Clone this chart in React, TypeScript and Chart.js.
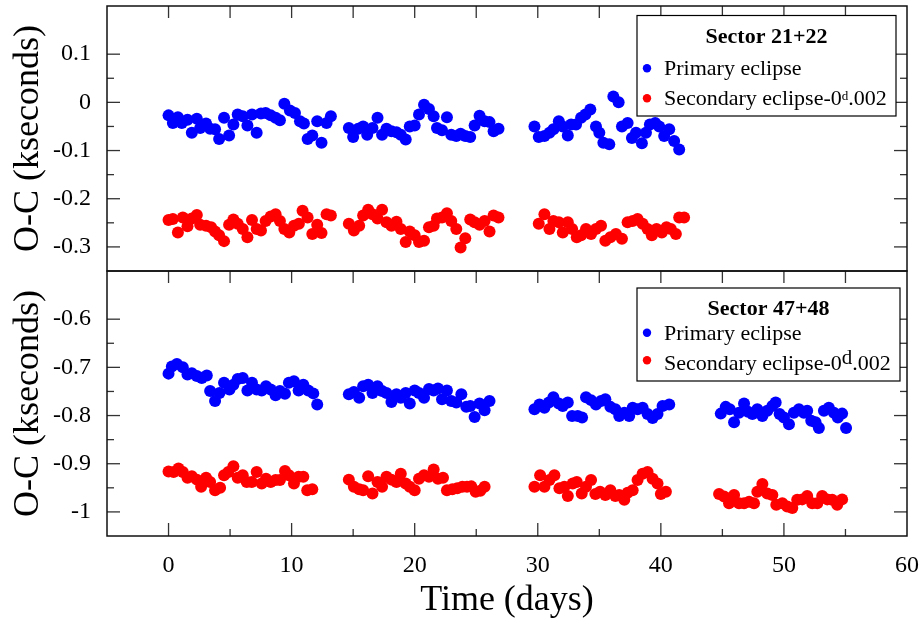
import React, { useEffect, useRef } from 'react';
import { Chart, registerables } from 'chart.js';

Chart.register(...registerables);

const FONT = "'Liberation Serif', 'Times New Roman', serif";
const BLUE = '#0000ff';
const RED = '#ff0000';

// ---------- Sector 21+22 (top panel) ----------
const s21PrimaryDays1 = [0.00, 0.35, 0.76, 1.08, 1.54, 1.89, 2.30, 2.57, 3.05, 3.38, 3.78, 4.11, 4.51, 4.92, 5.27, 5.62, 6.03, 6.41, 6.78, 7.16, 7.51, 7.89, 8.30, 8.70, 9.05, 9.41, 9.86, 10.27, 10.68, 11.00, 11.30, 11.68, 12.08, 12.43, 12.84, 13.19];
const s21PrimaryOC1 = [-0.027, -0.043, -0.031, -0.043, -0.036, -0.063, -0.034, -0.053, -0.044, -0.055, -0.056, -0.076, -0.032, -0.069, -0.046, -0.025, -0.029, -0.048, -0.025, -0.063, -0.023, -0.022, -0.027, -0.032, -0.037, -0.003, -0.017, -0.022, -0.039, -0.044, -0.076, -0.069, -0.039, -0.084, -0.043, -0.029];
const s21PrimaryDays2 = [14.65, 15.0, 15.41, 15.81, 16.14, 16.57, 16.98, 17.35, 17.71, 18.11, 18.52, 18.87, 19.27, 19.60, 20.00, 20.35, 20.76, 21.16, 21.54, 21.81, 22.22, 22.62, 22.97, 23.38, 23.73, 24.11, 24.51, 24.87, 25.27, 25.68, 26.08, 26.41, 26.81];
const s21PrimaryOC2 = [-0.053, -0.072, -0.055, -0.050, -0.067, -0.053, -0.032, -0.067, -0.055, -0.060, -0.062, -0.067, -0.077, -0.050, -0.048, -0.025, -0.005, -0.014, -0.029, -0.053, -0.058, -0.031, -0.067, -0.070, -0.065, -0.070, -0.072, -0.048, -0.028, -0.039, -0.041, -0.060, -0.055];
const s21PrimaryDays3 = [29.73, 30.08, 30.54, 30.95, 31.27, 31.71, 32.03, 32.44, 32.71, 33.11, 33.52, 33.87, 34.27, 34.73, 35.00, 35.33, 35.81, 36.14, 36.57, 36.84, 37.30, 37.65, 37.98, 38.46, 38.79, 39.11, 39.54, 39.87, 40.27, 40.68, 41.08, 41.49];
const s21PrimaryOC3 = [-0.050, -0.072, -0.070, -0.063, -0.056, -0.039, -0.050, -0.069, -0.046, -0.046, -0.032, -0.025, -0.015, -0.050, -0.063, -0.084, -0.087, 0.012, 0.000, -0.050, -0.043, -0.074, -0.063, -0.085, -0.063, -0.046, -0.043, -0.050, -0.070, -0.056, -0.080, -0.098];

const s21SecondaryDays1 = [0.00, 0.35, 0.76, 1.16, 1.54, 1.89, 2.30, 2.57, 3.05, 3.46, 3.78, 4.11, 4.51, 4.92, 5.27, 5.62, 6.03, 6.41, 6.78, 7.16, 7.51, 7.89, 8.30, 8.70, 9.05, 9.41, 9.81, 10.19, 10.59, 10.89, 11.30, 11.68, 12.08, 12.43, 12.84, 13.19];
const s21SecondaryOC1 = [-0.244, -0.242, -0.270, -0.239, -0.257, -0.241, -0.234, -0.254, -0.256, -0.259, -0.268, -0.276, -0.288, -0.254, -0.243, -0.252, -0.263, -0.280, -0.244, -0.263, -0.266, -0.246, -0.237, -0.232, -0.246, -0.263, -0.270, -0.256, -0.252, -0.225, -0.239, -0.273, -0.254, -0.271, -0.232, -0.235];
const s21SecondaryDays2 = [14.65, 15.06, 15.49, 15.81, 16.22, 16.57, 16.98, 17.35, 17.71, 18.11, 18.52, 18.87, 19.27, 19.60, 20.00, 20.35, 20.76, 21.16, 21.54, 21.81, 22.22, 22.62, 22.97, 23.38, 23.73, 24.11, 24.51, 24.87, 25.27, 25.68, 26.08, 26.41, 26.81];
const s21SecondaryOC2 = [-0.252, -0.266, -0.256, -0.235, -0.223, -0.232, -0.241, -0.223, -0.249, -0.256, -0.248, -0.263, -0.290, -0.268, -0.276, -0.290, -0.287, -0.259, -0.256, -0.241, -0.239, -0.230, -0.246, -0.263, -0.301, -0.282, -0.243, -0.249, -0.254, -0.246, -0.268, -0.235, -0.239];
const s21SecondaryDays3 = [30.08, 30.54, 30.95, 31.27, 31.71, 32.03, 32.44, 32.79, 33.17, 33.52, 33.92, 34.33, 34.73, 35.14, 35.49, 35.90, 36.35, 36.84, 37.30, 37.71, 38.11, 38.52, 38.92, 39.27, 39.65, 40.08, 40.46, 40.81, 41.22, 41.49, 41.89];
const s21SecondaryOC3 = [-0.252, -0.232, -0.263, -0.246, -0.249, -0.270, -0.249, -0.263, -0.280, -0.276, -0.263, -0.273, -0.263, -0.256, -0.287, -0.280, -0.273, -0.283, -0.249, -0.246, -0.242, -0.252, -0.263, -0.276, -0.263, -0.270, -0.259, -0.263, -0.273, -0.239, -0.239];

// ---------- Sector 47+48 (bottom panel) ----------
const s47PrimaryDays1 = [0, 0.27, 0.68, 1.16, 1.54, 1.89, 2.30, 2.70, 3.11, 3.38, 3.78, 4.14, 4.51, 4.95, 5.27, 5.62, 6.03, 6.41, 6.78, 7.16, 7.57, 7.92, 8.30, 8.70, 9.05, 9.46, 9.78, 10.19, 10.57, 10.95, 11.35, 11.76, 12.08];
const s47PrimaryOC1 = [-0.713, -0.698, -0.693, -0.700, -0.715, -0.712, -0.718, -0.722, -0.717, -0.749, -0.770, -0.753, -0.732, -0.746, -0.736, -0.724, -0.722, -0.748, -0.732, -0.746, -0.748, -0.739, -0.746, -0.758, -0.749, -0.755, -0.732, -0.729, -0.748, -0.736, -0.748, -0.754, -0.777];
const s47PrimaryDays2 = [14.65, 15.06, 15.49, 15.81, 16.22, 16.57, 16.98, 17.35, 17.71, 18.11, 18.52, 18.87, 19.27, 19.60, 20.00, 20.35, 20.76, 21.16, 21.54, 21.89, 22.22, 22.62, 22.97, 23.38, 23.79, 24.19, 24.52, 24.87, 25.27, 25.68, 26.08];
const s47PrimaryOC2 = [-0.756, -0.751, -0.763, -0.739, -0.736, -0.753, -0.739, -0.749, -0.753, -0.772, -0.756, -0.763, -0.753, -0.775, -0.748, -0.753, -0.763, -0.745, -0.748, -0.744, -0.766, -0.748, -0.770, -0.773, -0.756, -0.782, -0.780, -0.803, -0.775, -0.789, -0.770];
const s47PrimaryDays3 = [29.73, 30.14, 30.54, 30.90, 31.27, 31.71, 32.03, 32.44, 32.79, 33.25, 33.60, 33.92, 34.33, 34.73, 35.14, 35.49, 35.90, 36.30, 36.62, 37.03, 37.43, 37.71, 38.11, 38.52, 38.92, 39.33, 39.73, 40.14, 40.68];
const s47PrimaryOC3 = [-0.787, -0.777, -0.784, -0.773, -0.762, -0.775, -0.780, -0.773, -0.801, -0.801, -0.804, -0.762, -0.768, -0.777, -0.770, -0.766, -0.782, -0.787, -0.801, -0.794, -0.801, -0.784, -0.787, -0.784, -0.797, -0.805, -0.797, -0.780, -0.777];
const s47PrimaryDays4 = [44.87, 45.27, 45.60, 45.95, 46.35, 46.76, 47.08, 47.44, 47.84, 48.25, 48.65, 49.06, 49.33, 49.65, 50.00, 50.41, 50.81, 51.22, 51.62, 51.89, 52.22, 52.57, 52.84, 53.25, 53.65, 54.06, 54.38, 54.73, 55.05];
const s47PrimaryOC4 = [-0.796, -0.782, -0.787, -0.814, -0.794, -0.775, -0.792, -0.797, -0.787, -0.801, -0.790, -0.780, -0.773, -0.797, -0.804, -0.818, -0.794, -0.787, -0.794, -0.790, -0.811, -0.814, -0.826, -0.790, -0.784, -0.794, -0.804, -0.796, -0.826];

const s47SecondaryDays1 = [0, 0.41, 0.81, 1.16, 1.54, 1.89, 2.30, 2.65, 3.05, 3.38, 3.78, 4.19, 4.51, 4.86, 5.27, 5.62, 6.03, 6.35, 6.76, 7.16, 7.57, 7.92, 8.30, 8.70, 9.05, 9.46, 9.78, 10.19, 10.57, 10.95, 11.27, 11.68];
const s47SecondaryOC1 = [-0.916, -0.917, -0.910, -0.917, -0.929, -0.926, -0.933, -0.948, -0.929, -0.938, -0.955, -0.950, -0.924, -0.917, -0.905, -0.929, -0.924, -0.938, -0.938, -0.917, -0.941, -0.931, -0.938, -0.934, -0.934, -0.915, -0.924, -0.941, -0.927, -0.927, -0.955, -0.953];
const s47SecondaryDays2 = [14.65, 15.06, 15.49, 15.81, 16.22, 16.57, 16.98, 17.35, 17.71, 18.11, 18.52, 18.87, 19.27, 19.60, 20.00, 20.35, 20.76, 21.16, 21.54, 21.89, 22.30, 22.62, 23.06, 23.46, 23.87, 24.25, 24.60, 24.95, 25.33, 25.68];
const s47SecondaryOC2 = [-0.933, -0.948, -0.953, -0.955, -0.926, -0.962, -0.938, -0.948, -0.927, -0.933, -0.938, -0.921, -0.941, -0.948, -0.955, -0.931, -0.924, -0.927, -0.912, -0.931, -0.929, -0.955, -0.953, -0.951, -0.948, -0.948, -0.947, -0.958, -0.956, -0.948];
const s47SecondaryDays3 = [29.73, 30.19, 30.54, 30.95, 31.35, 31.76, 32.16, 32.44, 32.84, 33.17, 33.57, 33.92, 34.33, 34.68, 35.06, 35.49, 35.90, 36.30, 36.62, 37.03, 37.30, 37.71, 38.11, 38.52, 38.92, 39.33, 39.73, 40.00, 40.41];
const s47SecondaryOC3 = [-0.948, -0.924, -0.948, -0.934, -0.924, -0.951, -0.948, -0.967, -0.941, -0.938, -0.962, -0.948, -0.934, -0.963, -0.958, -0.965, -0.955, -0.967, -0.965, -0.975, -0.960, -0.955, -0.934, -0.921, -0.917, -0.931, -0.941, -0.963, -0.958];
const s47SecondaryDays4 = [44.73, 45.14, 45.54, 45.95, 46.35, 46.76, 47.17, 47.57, 47.84, 48.25, 48.65, 49.06, 49.38, 49.87, 50.27, 50.68, 51.08, 51.49, 51.89, 52.30, 52.71, 53.11, 53.52, 53.92, 54.33, 54.73];
const s47SecondaryOC4 = [-0.963, -0.968, -0.982, -0.965, -0.982, -0.982, -0.979, -0.982, -0.958, -0.942, -0.962, -0.965, -0.985, -0.982, -0.989, -0.992, -0.975, -0.974, -0.967, -0.982, -0.982, -0.967, -0.974, -0.975, -0.985, -0.974];

// ---------- Axis ticks & labels ----------
const xTicks = [0, 10, 20, 30, 40, 50, 60];
const xMinorTicks = [5, 15, 25, 35, 45, 55];
const yTopTicks = [0.1, 0, -0.1, -0.2, -0.3];
const yTopMinorTicks = [0.05, -0.05, -0.15, -0.25];
const yBottomTicks = [-0.6, -0.7, -0.8, -0.9, -1];
const yBottomMinorTicks = [-0.65, -0.75, -0.85, -0.95];

const xTitle = 'Time (days)';
const yTitle = 'O-C (kseconds)';
const topSectorLabel = 'Sector 21+22';
const bottomSectorLabel = 'Sector 47+48';
const primaryLabel = 'Primary eclipse';
const secondaryLabelMain = 'Secondary eclipse-0';
const secondaryLabelSup = 'd';
const secondaryLabelTail = '.002';

const pts = (days: number[], vals: number[]) => days.map((d, i) => ({ x: d, y: vals[i] }));
const fmt = (v: number) => String(Math.round(v * 100) / 100);

function drawLegend(ctx: CanvasRenderingContext2D, o: any) {
  const { x, y, w, h, title, tB, l1B, l2B, d1, d2, supSize, supRaise } = o;
  ctx.save();
  ctx.fillStyle = '#ffffff';
  ctx.fillRect(x, y, w, h);
  ctx.strokeStyle = '#000';
  ctx.lineWidth = 1.2;
  ctx.strokeRect(x, y, w, h);
  ctx.fillStyle = '#000';
  ctx.textBaseline = 'alphabetic';
  ctx.textAlign = 'center';
  ctx.font = `bold 22px ${FONT}`;
  ctx.fillText(title, x + w / 2, y + tB);
  ctx.textAlign = 'left';
  ctx.font = `22px ${FONT}`;
  const tx = x + 27;
  ctx.fillText(primaryLabel, tx, y + l1B);
  let cx = tx;
  ctx.fillText(secondaryLabelMain, cx, y + l2B);
  cx += ctx.measureText(secondaryLabelMain).width;
  ctx.font = `${supSize}px ${FONT}`;
  ctx.fillText(secondaryLabelSup, cx, y + l2B - supRaise);
  cx += ctx.measureText(secondaryLabelSup).width;
  ctx.font = `22px ${FONT}`;
  ctx.fillText(secondaryLabelTail, cx, y + l2B);
  ctx.fillStyle = BLUE;
  ctx.beginPath();
  ctx.arc(x + 10, y + d1, 4.2, 0, Math.PI * 2);
  ctx.fill();
  ctx.fillStyle = RED;
  ctx.beginPath();
  ctx.arc(x + 10, y + d2, 4.2, 0, Math.PI * 2);
  ctx.fill();
  ctx.restore();
}

const framePlugin = {
  id: 'framesAndLegends',
  afterDraw(chart: any) {
    const ctx: CanvasRenderingContext2D = chart.ctx;
    const xs = chart.scales.x;
    const yT = chart.scales.yTop;
    const yB = chart.scales.yBottom;
    const L = chart.chartArea.left;
    const R = chart.chartArea.right;
    const line = (a: number, b: number, c: number, d: number) => {
      ctx.beginPath();
      ctx.moveTo(a, b);
      ctx.lineTo(c, d);
      ctx.stroke();
    };
    ctx.save();
    ctx.strokeStyle = '#333';
    ctx.lineWidth = 1.3;
    const yTicksFor = (sc: any, major: number[], minor: number[]) => {
      major.forEach((v) => {
        const p = sc.getPixelForValue(v);
        line(L, p, L + 13, p);
        line(R, p, R - 13, p);
      });
      minor.forEach((v) => {
        const p = sc.getPixelForValue(v);
        line(L, p, L + 7, p);
        line(R, p, R - 7, p);
      });
    };
    yTicksFor(yT, yTopTicks, yTopMinorTicks);
    yTicksFor(yB, yBottomTicks, yBottomMinorTicks);
    xTicks.forEach((v) => {
      const p = xs.getPixelForValue(v);
      if (p > R - 1) return;
      line(p, yB.bottom, p, yB.bottom - 13);
      line(p, yB.top, p, yB.top + 12);
      line(p, yT.top, p, yT.top + 12);
    });
    xMinorTicks.forEach((v) => {
      const p = xs.getPixelForValue(v);
      line(p, yB.bottom, p, yB.bottom - 7);
      line(p, yB.top, p, yB.top + 12);
      line(p, yT.top, p, yT.top + 12);
    });
    ctx.strokeStyle = '#111';
    ctx.lineWidth = 1.5;
    ctx.strokeRect(L, yT.top, R - L, yT.bottom - yT.top);
    ctx.strokeRect(L, yB.top, R - L, yB.bottom - yB.top);
    ctx.restore();

    drawLegend(ctx, {
      x: R - 270, y: yT.top + 9.5, w: 259, h: 100.5, title: topSectorLabel,
      tB: 27, l1B: 59.4, l2B: 89.4, d1: 52.7, d2: 82.7, supSize: 13, supRaise: 5,
    });
    drawLegend(ctx, {
      x: R - 270, y: yB.top + 17, w: 263, h: 93, title: bottomSectorLabel,
      tB: 26.7, l1B: 52.3, l2B: 81.7, d1: 44.7, d2: 72.3, supSize: 21, supRaise: 6,
    });
  },
};

export default function App() {
  const ref = useRef<HTMLCanvasElement>(null);
  useEffect(() => {
    const tickFont = { family: FONT, size: 24 };
    const titleFont = { family: FONT, size: 36 };
    const ds = (label: string, data: any[], color: string, axis: string) => ({
      label, data, yAxisID: axis, xAxisID: 'x',
      backgroundColor: color, borderColor: color,
      pointRadius: 6, pointBorderWidth: 0, pointHoverRadius: 6, showLine: false,
    });
    const yAxis = (min: number, max: number, ticks: number[]) => ({
      type: 'linear' as const,
      position: 'left' as const,
      stack: 'panels',
      stackWeight: 1,
      min, max,
      afterBuildTicks: (s: any) => { s.ticks = ticks.map((v) => ({ value: v })); },
      afterFit: (s: any) => { s.width = 107; s.paddingTop = 0; s.paddingBottom = 0; },
      grid: { display: false, drawTicks: false },
      border: { display: false },
      ticks: { color: '#000', font: tickFont, padding: 16, autoSkip: false, callback: (v: any) => fmt(Number(v)) },
      title: { display: true, text: yTitle, color: '#000', font: titleFont, padding: { top: 7, bottom: 0 } },
    });
    const chart = new Chart(ref.current as HTMLCanvasElement, {
      type: 'scatter',
      data: {
        datasets: [
          ds('Primary eclipse S21', [...pts(s21PrimaryDays1, s21PrimaryOC1), ...pts(s21PrimaryDays2, s21PrimaryOC2), ...pts(s21PrimaryDays3, s21PrimaryOC3)], BLUE, 'yTop'),
          ds('Secondary eclipse S21', [...pts(s21SecondaryDays1, s21SecondaryOC1), ...pts(s21SecondaryDays2, s21SecondaryOC2), ...pts(s21SecondaryDays3, s21SecondaryOC3)], RED, 'yTop'),
          ds('Primary eclipse S47', [...pts(s47PrimaryDays1, s47PrimaryOC1), ...pts(s47PrimaryDays2, s47PrimaryOC2), ...pts(s47PrimaryDays3, s47PrimaryOC3), ...pts(s47PrimaryDays4, s47PrimaryOC4)], BLUE, 'yBottom'),
          ds('Secondary eclipse S47', [...pts(s47SecondaryDays1, s47SecondaryOC1), ...pts(s47SecondaryDays2, s47SecondaryOC2), ...pts(s47SecondaryDays3, s47SecondaryOC3), ...pts(s47SecondaryDays4, s47SecondaryOC4)], RED, 'yBottom'),
        ],
      },
      options: {
        responsive: false,
        animation: false,
        layout: { padding: { left: 0, right: 17, top: 3, bottom: 0 } },
        plugins: { legend: { display: false }, tooltip: { enabled: false }, title: { display: false } },
        scales: {
          x: {
            type: 'linear',
            position: 'bottom',
            min: -5,
            max: 60,
            afterBuildTicks: (s: any) => { s.ticks = xTicks.map((v) => ({ value: v })); },
            afterFit: (s: any) => { s.height = 88; s.paddingLeft = 0; s.paddingRight = 0; },
            grid: { display: false, drawTicks: false },
            border: { display: false },
            ticks: { color: '#000', font: tickFont, padding: 15, autoSkip: false, maxRotation: 0, callback: (v: any) => fmt(Number(v)) },
            title: { display: true, text: xTitle, color: '#000', font: titleFont, padding: { top: 0, bottom: 2 } },
          },
          yBottom: yAxis(-1.05, -0.5, yBottomTicks),
          yTop: yAxis(-0.35, 0.2, yTopTicks),
        } as any,
      },
      plugins: [framePlugin],
    });
    return () => chart.destroy();
  }, []);
  return (
    <div style={{ position: 'fixed', left: 0, top: 0, width: 924, height: 624, background: '#fff' }}>
      <canvas ref={ref} width={924} height={624} style={{ display: 'block' }} />
    </div>
  );
}
